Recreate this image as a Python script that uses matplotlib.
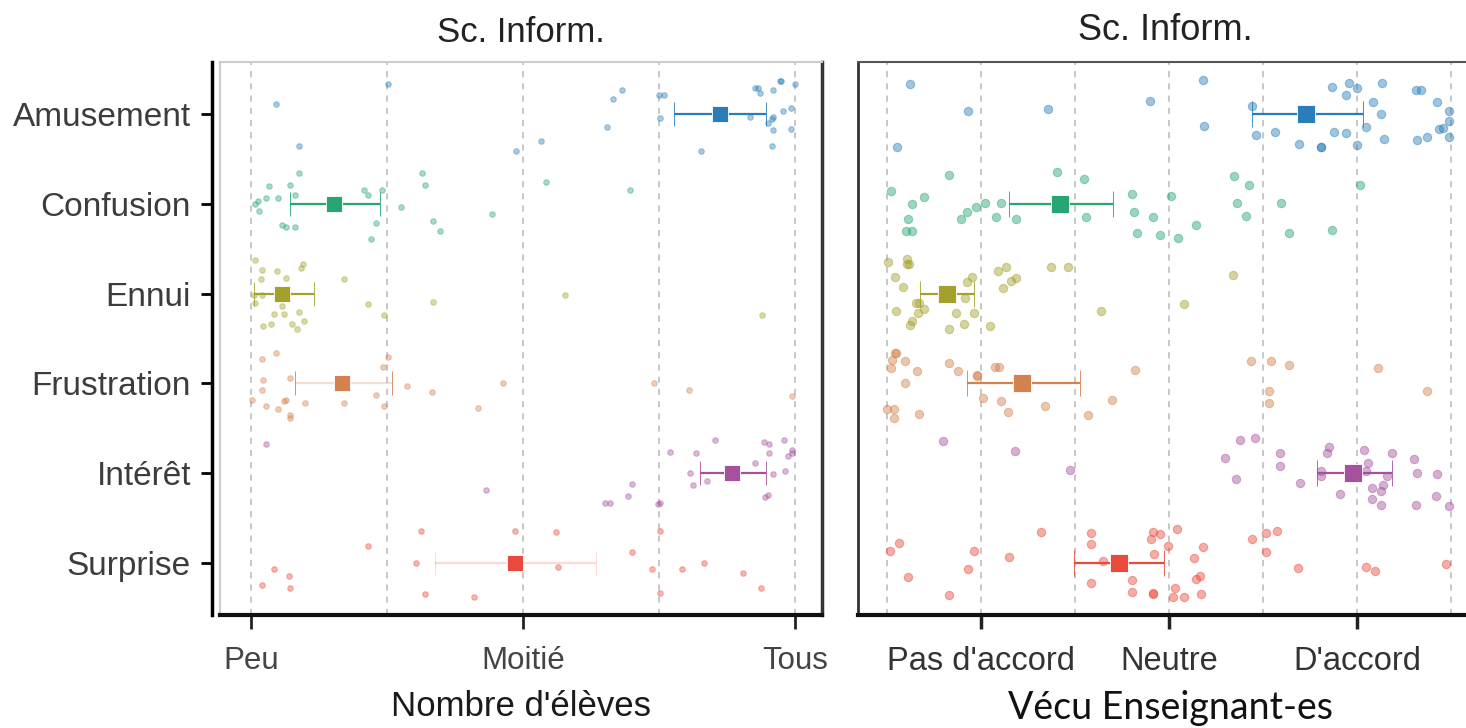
import matplotlib
matplotlib.use("Agg")
import matplotlib.pyplot as plt

plt.rcParams['font.family'] = ['Liberation Sans', 'DejaVu Sans']

categories = ["Amusement", "Confusion", "Ennui", "Frustration", "Intérêt", "Surprise"]
colors = ["#2A7DB8", "#27A672", "#A2A12C", "#D3814F", "#A6519E", "#E84B3C"]

# ---- left panel: number of pupils (1 = Peu, 3 = Moitié, 5 = Tous)
left_ticks = [1, 3, 5]
left_ticklabels = ["Peu", "Moitié", "Tous"]

left_x = [
    [1.18, 2.01, 3.66, 3.73, 3.62, 4.00, 4.04, 4.01, 4.31, 4.67, 4.71, 4.73, 4.74, 4.84,
     4.89, 4.90, 5.00, 4.97, 4.91, 4.84, 4.83, 4.84, 4.97, 4.83, 4.80, 2.95, 3.13, 1.35],
    [1.35, 1.13, 1.29, 1.32, 1.03, 1.05, 1.11, 1.20, 1.06, 1.23, 1.26, 1.32, 1.83, 1.86,
     1.96, 1.92, 1.88, 2.10, 2.26, 2.28, 2.34, 2.39, 2.77, 3.17, 3.79],
    [1.03, 1.08, 1.19, 1.38, 1.37, 1.07, 1.26, 1.68, 1.02, 1.08, 1.03, 1.23, 1.35, 1.17,
     1.24, 1.15, 1.09, 1.30, 1.34, 1.39, 1.86, 1.98, 2.34, 3.31, 4.76],
    [1.08, 1.18, 1.09, 1.08, 1.01, 1.11, 1.20, 1.24, 1.26, 1.29, 1.29, 1.29, 1.40, 1.68,
     1.92, 1.97, 2.01, 1.98, 2.15, 2.33, 2.67, 2.85, 3.96, 4.22, 4.98],
    [1.11, 2.73, 3.60, 3.64, 3.77, 3.80, 3.99, 4.01, 4.08, 4.23, 4.25, 4.27, 4.35, 4.41,
     4.71, 4.77, 4.81, 4.81, 4.78, 4.80, 4.84, 4.92, 4.93, 4.95, 4.98, 4.98],
    [1.08, 1.17, 1.28, 1.29, 1.86, 2.21, 2.25, 2.28, 2.64, 2.94, 3.24, 3.26, 3.80, 3.95,
     4.01, 4.01, 4.17, 4.33, 4.62, 4.75],
]
left_dy = [
    [-0.11, -0.34, -0.17, -0.27, 0.14, -0.21, -0.21, 0.04, 0.41, 0.03, -0.29, -0.29, -0.23, -0.27,
     -0.37, -0.37, -0.34, -0.07, -0.03, 0.03, 0.05, 0.18, 0.17, 0.35, 0.10, 0.41, 0.30, 0.36],
    [-0.34, -0.20, -0.21, -0.10, 0.00, -0.03, -0.07, -0.07, 0.08, 0.23, 0.26, 0.26, -0.15, -0.10,
     -0.15, 0.21, 0.39, 0.03, -0.34, -0.21, 0.19, 0.30, 0.11, -0.24, -0.16],
    [-0.37, -0.26, -0.25, -0.33, -0.29, -0.16, -0.17, -0.16, 0.01, 0.02, 0.10, 0.14, 0.20, 0.23,
     0.23, 0.34, 0.36, 0.34, 0.39, 0.30, 0.11, 0.24, 0.09, 0.02, 0.24],
    [-0.27, -0.34, -0.04, 0.07, 0.19, 0.25, 0.28, 0.20, 0.19, 0.35, 0.38, -0.06, 0.22, 0.22,
     0.13, -0.18, -0.29, 0.25, 0.03, 0.10, 0.27, -0.01, -0.01, 0.07, 0.14],
    [-0.32, 0.19, 0.33, 0.33, 0.25, 0.12, 0.34, 0.33, -0.24, 0.00, 0.13, -0.22, 0.09, -0.37,
     -0.11, -0.35, -0.32, -0.22, 0.26, 0.24, 0.01, -0.37, -0.02, -0.19, -0.26, -0.22],
    [0.25, 0.07, 0.15, 0.28, -0.19, 0.00, -0.36, 0.35, 0.38, -0.36, -0.34, 0.04, -0.12, 0.07,
     -0.36, 0.34, 0.07, 0.00, 0.11, 0.28],
]
left_mean = [4.45, 1.61, 1.23, 1.67, 4.54, 2.94]
left_low = [4.11, 1.29, 1.02, 1.32, 4.30, 2.35]
left_high = [4.79, 1.95, 1.46, 2.04, 4.79, 3.54]

# ---- right panel: teachers' experience (Likert 1..7)
right_ticks = [2, 4, 6]
right_ticklabels = ["Pas d'accord", "Neutre", "D'accord"]

right_x = [
    [1.24, 1.86, 1.11, 2.71, 3.80, 4.36, 4.37, 4.88, 4.93, 5.13, 5.38, 5.62, 5.62, 5.73, 5.88,
     5.91, 6.00, 5.76, 5.88, 6.00, 6.10, 6.17, 6.26, 6.27, 6.29, 6.63, 6.68, 6.64, 6.75, 6.85,
     6.87, 6.91, 6.98, 6.98, 6.98],
    [1.04, 1.26, 1.39, 1.22, 1.20, 1.26, 1.66, 1.79, 1.85, 1.95, 2.04, 2.21, 2.16, 2.37, 2.81,
     3.09, 3.12, 3.61, 3.63, 3.66, 3.83, 3.90, 4.02, 4.10, 4.29, 4.69, 4.72, 4.85, 4.82, 5.19,
     5.28, 5.73, 6.03],
    [1.01, 1.21, 1.21, 1.23, 1.08, 1.17, 1.10, 1.31, 1.34, 1.39, 1.33, 1.26, 1.24, 1.66, 1.73,
     1.82, 1.83, 1.85, 1.90, 1.93, 2.10, 2.18, 2.27, 2.23, 2.32, 2.37, 2.74, 2.92, 3.28, 4.16,
     4.68],
    [1.09, 1.08, 1.05, 1.19, 1.04, 1.32, 1.19, 1.00, 1.07, 1.07, 1.34, 1.66, 1.75, 1.96, 1.96,
     2.15, 2.19, 2.02, 2.21, 2.29, 2.68, 3.14, 3.39, 3.64, 4.87, 5.09, 5.28, 5.06, 5.06, 6.22,
     6.74],
    [1.59, 2.36, 2.95, 4.60, 4.71, 4.76, 4.91, 5.18, 5.18, 5.39, 5.62, 5.62, 5.68, 5.70, 5.82,
     6.07, 6.10, 6.12, 6.16, 6.16, 6.26, 6.26, 6.28, 6.32, 6.37, 6.61, 6.63, 6.64, 6.84, 6.85,
     6.98],
    [1.03, 1.13, 1.22, 1.66, 1.86, 1.93, 2.30, 2.64, 3.17, 3.17, 3.17, 3.30, 3.61, 3.61, 3.81,
     3.83, 3.83, 3.83, 3.84, 3.90, 3.99, 4.04, 4.06, 4.09, 4.16, 4.27, 4.29, 4.33, 4.34, 4.36,
     4.88, 5.03, 5.03, 5.15, 5.37, 6.10, 6.19, 6.95],
]
right_dy = [
    [-0.33, -0.03, 0.37, -0.06, -0.15, -0.38, 0.13, -0.09, 0.23, 0.20, 0.33, 0.37, 0.37, -0.30,
     -0.21, -0.35, -0.29, 0.20, 0.21, 0.34, 0.14, -0.13, 0.00, -0.35, 0.28, -0.27, -0.27, 0.29,
     0.25, -0.13, 0.17, 0.15, -0.03, 0.08, 0.26],
    [-0.14, 0.00, -0.08, 0.17, 0.30, 0.30, -0.32, 0.17, 0.09, 0.03, -0.01, -0.01, 0.15, 0.17,
     -0.35, -0.28, 0.15, -0.11, 0.09, 0.32, 0.15, 0.35, -0.09, 0.38, 0.23, -0.31, -0.01, -0.21,
     0.13, -0.01, 0.33, 0.29, -0.21],
    [-0.35, -0.39, -0.33, -0.33, -0.19, -0.07, 0.19, 0.10, 0.10, 0.17, 0.22, 0.31, 0.35, 0.39,
     0.22, 0.34, 0.05, -0.13, -0.19, 0.22, 0.36, -0.25, -0.30, -0.06, -0.14, -0.17, -0.30, -0.30,
     0.19, 0.11, -0.21],
    [-0.34, -0.34, -0.26, -0.25, -0.17, -0.14, 0.00, 0.29, 0.29, 0.38, 0.34, -0.23, -0.14, -0.09,
     -0.08, -0.18, -0.18, 0.16, 0.20, 0.32, 0.25, 0.35, 0.19, -0.15, -0.25, -0.25, -0.20, 0.08,
     0.22, -0.17, 0.09],
    [-0.36, -0.25, -0.03, -0.17, 0.07, -0.37, -0.39, -0.22, -0.08, 0.11, -0.02, 0.03, -0.23, -0.29,
     0.23, -0.26, -0.02, -0.11, 0.17, 0.29, 0.20, 0.35, 0.13, 0.03, -0.23, -0.16, 0.35, 0.00,
     0.25, 0.01, 0.37],
    [-0.13, -0.22, 0.16, 0.36, 0.07, -0.13, -0.07, -0.35, -0.33, -0.21, 0.22, -0.02, 0.19, 0.32,
     -0.27, -0.35, 0.33, 0.35, -0.10, -0.32, -0.19, 0.38, 0.28, -0.38, 0.38, -0.05, 0.18, 0.15,
     0.35, -0.18, -0.27, -0.33, -0.12, -0.36, 0.06, 0.04, 0.09, 0.01],
]
right_mean = [5.46, 2.84, 1.64, 2.44, 5.96, 3.47]
right_low = [4.88, 2.30, 1.35, 1.85, 5.57, 2.99]
right_high = [6.06, 3.40, 1.92, 3.05, 6.37, 3.95]

# faded interval lines on the left panel (Frustration / Surprise)
left_bar_alpha = [1, 1, 1, 0.25, 1, 0.2]
left_cap_alpha = [1, 1, 1, 1, 1, 0.25]

fig = plt.figure(figsize=(14.66, 7.28), dpi=100)
ax1 = fig.add_axes([0.1501, 0.1552, 0.4106, 0.7596])
ax2 = fig.add_axes([0.5853, 0.1552, 0.4147, 0.7596])


def draw_panel(ax, xs, dys, means, lows, highs, dot_size, dot_alpha, sq_size, capsize,
               bar_alpha=None, cap_alpha=None):
    for i, cat in enumerate(categories):
        ys = [i + d for d in dys[i]]
        ax.plot(xs[i], ys, 'o', ms=dot_size, color=colors[i], alpha=dot_alpha,
                mec=colors[i], mew=0.8, zorder=2)
        eb = ax.errorbar(means[i], i, xerr=[[means[i] - lows[i]], [highs[i] - means[i]]],
                         fmt='s', ms=sq_size, color=colors[i], mec='#ffffff', mew=0.6,
                         ecolor=colors[i], elinewidth=1.6, capsize=capsize, capthick=1.6,
                         zorder=4)
        if bar_alpha is not None:
            for lc in eb[2]:
                lc.set_alpha(bar_alpha[i])
            for cl in eb[1]:
                cl.set_alpha(cap_alpha[i])
    ax.set_ylim(5.58, -0.58)
    ax.set_axisbelow(True)


draw_panel(ax1, left_x, left_dy, left_mean, left_low, left_high,
           dot_size=4, dot_alpha=0.4, sq_size=11, capsize=8.5,
           bar_alpha=left_bar_alpha, cap_alpha=left_cap_alpha)
draw_panel(ax2, right_x, right_dy, right_mean, right_low, right_high,
           dot_size=6, dot_alpha=0.45, sq_size=12.5, capsize=9.5)

# left panel axes
ax1.set_xlim(0.772, 5.199)
for v in range(1, 6):
    ax1.axvline(v, color='#b8b8b8', lw=1.1, ls=(0, (4, 4)), zorder=0)
ax1.set_xticks(left_ticks)
ax1.set_xticklabels(left_ticklabels)
ax1.set_yticks(range(len(categories)))
ax1.set_yticklabels(categories)
ax1.spines['left'].set_position(('outward', 6))
ax1.spines['left'].set_linewidth(2.5)
ax1.spines['left'].set_color('black')
ax1.spines['top'].set_color('#cccccc')
ax1.spines['top'].set_linewidth(1.5)
ax1.spines['right'].set_color('#333333')
ax1.spines['right'].set_linewidth(2.5)
ax1.spines['bottom'].set_color('#111111')
ax1.spines['bottom'].set_linewidth(3)
ax1.plot([0, 0], [0, 1], transform=ax1.transAxes, color='#cccccc', lw=1.5, clip_on=False)
ax1.tick_params(axis='y', length=8, width=2, color='black', pad=7, labelsize=24,
                labelcolor='#3c3c3c')
ax1.tick_params(axis='x', length=10, width=2, color='#222222', pad=12, labelsize=22.5,
                labelcolor='#444444')

# right panel axes
ax2.set_xlim(0.691, 7.16)
for v in range(1, 8):
    ax2.axvline(v, color='#b8b8b8', lw=1.1, ls=(0, (4, 4)), zorder=0)
ax2.set_xticks(right_ticks)
ax2.set_xticklabels(right_ticklabels)
ax2.set_yticks([])
ax2.spines['right'].set_visible(False)
ax2.spines['left'].set_color('#333333')
ax2.spines['left'].set_linewidth(2)
ax2.spines['top'].set_color('#555555')
ax2.spines['top'].set_linewidth(1.5)
ax2.spines['bottom'].set_color('#111111')
ax2.spines['bottom'].set_linewidth(3)
ax2.tick_params(axis='x', length=10, width=2.5, color='#222222', pad=12, labelsize=23.5,
                labelcolor='#333333')

fig.text(521 / 1466, 1 - 33 / 728, "Sc. Inform.", ha='center', va='center', fontsize=25,
         color='#222222')
fig.text(1165 / 1466, 1 - 30 / 728, "Sc. Inform.", ha='center', va='center', fontsize=26,
         color='#222222')
fig.text(521 / 1466, 1 - 707 / 728, "Nombre d'élèves", ha='center', va='center', fontsize=25,
         color='#1a1a1a')
fig.text(1170 / 1466, 1 - 708 / 728, "Vécu Enseignant-es", ha='center', va='center',
         fontsize=27, color='#111111', family=['Lato', 'DejaVu Sans'])

fig.savefig("out.png", dpi=100)
